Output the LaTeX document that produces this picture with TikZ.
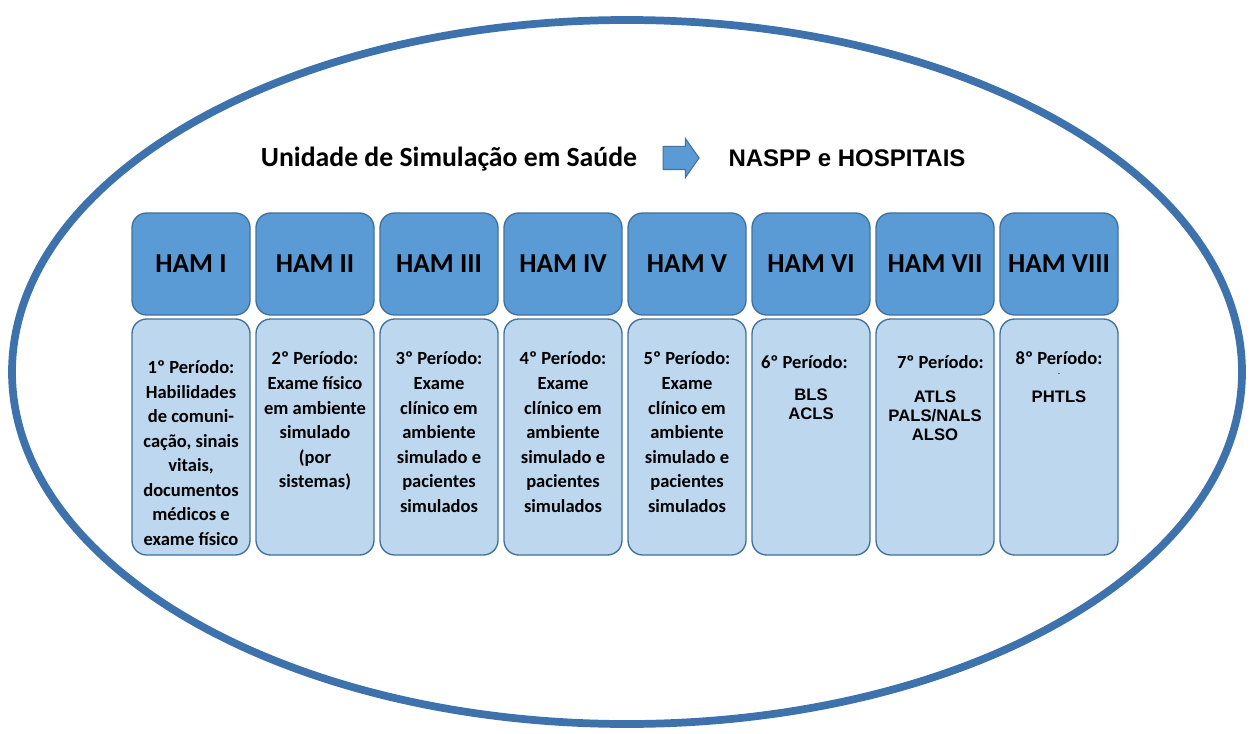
\documentclass[tikz,border=0pt]{standalone}
\usepackage{fontspec}
\setmainfont{Carlito}
\newfontfamily\arialfont{Liberation Sans}
\usetikzlibrary{shapes.arrows}

\definecolor{hamblue}{RGB}{91,155,213}
\definecolor{hamedge}{RGB}{65,113,156}
\definecolor{periodblue}{RGB}{189,215,238}
\definecolor{ringblue}{RGB}{62,114,172}

\begin{document}
\begin{tikzpicture}[x=0.75pt,y=-0.75pt,node distance=93pt,
            ham node/.style={draw=hamedge,line width=1pt,fill=hamblue,rounded corners=11pt,
                minimum width=88.5pt,minimum height=76.5pt,inner sep=0pt,
                font=\fontsize{20.5}{24}\selectfont\bfseries},
            period box/.style={draw=hamedge,line width=1pt,fill=periodblue,rounded corners=11pt,
                minimum width=88.5pt,minimum height=177pt,inner sep=0pt},
            period text/.style={anchor=north,align=center,inner sep=0pt,
                font=\fontsize{13.9}{18.4}\selectfont\bfseries},
            acro text/.style={anchor=north,align=center,inner sep=0pt,
                font=\arialfont\fontsize{12.5}{14.3}\selectfont\bfseries}]

        \useasboundingbox (0,0) rectangle (1251,734);

        % Outer ring
        \draw[ringblue,line width=5.8pt] (627,372) ellipse [x radius=461.25pt,y radius=264pt];

        % Title line
        \node[anchor=base,font=\fontsize{20.8}{25}\selectfont\bfseries] (ttl) at (449,167)
            {Unidade de Simulação em Saúde};
        \node[single arrow,draw=hamedge,fill=hamblue,line width=0.8pt,inner xsep=0pt,inner ysep=8.25pt,
            minimum height=27pt,single arrow head extend=6pt,single arrow tip angle=110] (arw) at (677,158) {};
        \node[anchor=base,font=\arialfont\fontsize{18}{22}\selectfont\bfseries] (dst) at (847,167)
            {NASPP e HOSPITAIS};

        % Define header boxes
        \node[ham node] (h1) at (191,264) {HAM I};
        \node[ham node] (h2) [right of=h1] {HAM II};
        \node[ham node] (h3) [right of=h2] {HAM III};
        \node[ham node] (h4) [right of=h3] {HAM IV};
        \node[ham node] (h5) [right of=h4] {HAM V};
        \node[ham node] (h6) [right of=h5] {HAM VI};
        \node[ham node] (h7) [right of=h6] {HAM VII};
        \node[ham node] (h8) [right of=h7] {HAM VIII};

        % Define period boxes
        \node[period box] (b1) [below of=h1,node distance=129.75pt] {};
        \node[period box] (b2) [below of=h2,node distance=129.75pt] {};
        \node[period box] (b3) [below of=h3,node distance=129.75pt] {};
        \node[period box] (b4) [below of=h4,node distance=129.75pt] {};
        \node[period box] (b5) [below of=h5,node distance=129.75pt] {};
        \node[period box] (b6) [below of=h6,node distance=129.75pt] {};
        \node[period box] (b7) [below of=h7,node distance=129.75pt] {};
        \node[period box] (b8) [below of=h8,node distance=129.75pt] {};

        % Period contents
        \node[period text] (t1) at ([yshift=-31.5pt]b1.north)
            {1º Período:\\Habilidades\\de comuni-\\cação, sinais\\vitais,\\documentos\\médicos e\\exame físico};
        \node[period text] (t2) at ([yshift=-25pt]b2.north)
            {2º Período:\\Exame físico\\em ambiente\\simulado\\(por\\sistemas)};
        \node[period text] (t3) at ([yshift=-25pt]b3.north)
            {3º Período:\\Exame\\clínico em\\ambiente\\simulado e\\pacientes\\simulados};
        \node[period text] (t4) at ([yshift=-25pt]b4.north)
            {4º Período:\\Exame\\clínico em\\ambiente\\simulado e\\pacientes\\simulados};
        \node[period text] (t5) at ([yshift=-25pt]b5.north)
            {5º Período:\\Exame\\clínico em\\ambiente\\simulado e\\pacientes\\simulados};
        \node[period text] (t6) at ([xshift=-5pt,yshift=-27.4pt]b6.north) {6º Período:};
        \node[acro text] (s6) at ([yshift=-52.5pt]b6.north) {BLS\\ACLS};
        \node[period text] (t7) at ([xshift=4pt,yshift=-27.4pt]b7.north) {7º Período:};
        \node[acro text] (s7) at ([yshift=-54pt]b7.north) {ATLS\\PALS/NALS\\ALSO};
        \node[period text] (t8) at ([yshift=-25pt]b8.north) {8º Período:};
        \node[acro text] (s8) at ([yshift=-41.25pt]b8.north) {{\tiny .}\\[6.75pt]PHTLS};

\end{tikzpicture}
\end{document}
